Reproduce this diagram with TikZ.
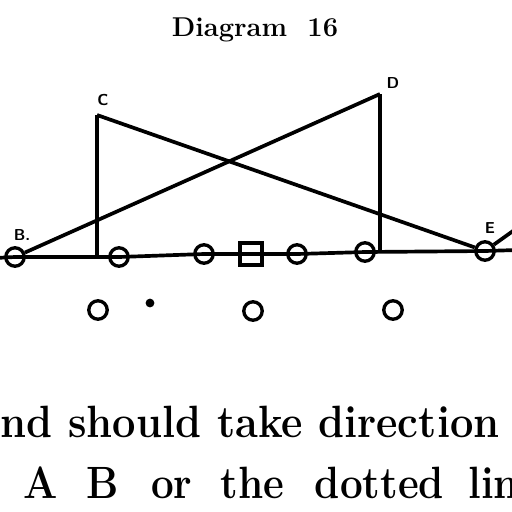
\documentclass[tikz,border=0pt]{standalone}
\usepackage{graphicx}
\begin{document}
\begin{tikzpicture}[x=.02cm,y=-.02cm,line width=2.1pt,
	player/.style={circle,draw,line width=1.9pt,inner sep=0pt,minimum size=10.5pt},
	centre/.style={rectangle,draw,line width=1.9pt,inner sep=0pt,minimum size=12.5pt},
	ball/.style={circle,fill,inner sep=0pt,minimum size=5pt},
	lbl/.style={font=\sffamily\bfseries\small},
	txt/.style={anchor=base west,inner sep=0pt,font=\bfseries\fontsize{23}{27}\selectfont}]
	\useasboundingbox (0,0) rectangle (512,512);
	\clip (0,0) rectangle (512,512);

	\node [font=\bfseries\fontsize{15.5}{18}\selectfont] (title) at (255,30) {Diagram\ \ 16};

	% line men
	\node [player] (b) at (15,257) {};
	\node [player] (g1) at (119,257) {};
	\node [player] (g2) at (204,254) {};
	\node [centre] (ctr) at (251,254) {};
	\node [player] (g3) at (297,254) {};
	\node [player] (g4) at (365,252) {};
	\node [player] (e) at (485,251) {};

	% backs
	\node [player] (h1) at (98,310) {};
	\node [ball] (dot) at (150,303) {};
	\node [player] (fb) at (253,311) {};
	\node [player] (h2) at (393,310) {};

	\coordinate (c) at (97,115);
	\coordinate (d) at (380,94);
	\coordinate (lend) at (-5,258);
	\coordinate (rend) at (517,250);
	\coordinate (eout) at (520,226);

	\draw (lend)--(b.center)--(g1.center)--(g2.center)--(ctr.center)--(g3.center)--(g4.center)--(e.center)--(rend);
	\draw (c)--(c |- b);
	\draw (d)--(d |- g4);
	\draw (b)--(d);
	\draw (c)--(e);
	\draw (e)--(eout);

	\node [lbl] (cl) at (103,100) {C};
	\node [lbl] (dl) at (393,83) {D};
	\node [lbl] (bl) at (22,235) {B.};
	\node [lbl] (el) at (490,228) {E};

	\node [txt] (t1) at (-1,437) {\scalebox{1.03}[1.12]{nd should take direction}};
	\node [txt] (t2) at (22,498) {\scalebox{1}[1.12]{A\hspace{.7em}B\hspace{.8em}or\hspace{.7em}the\hspace{.75em}dotted\hspace{.6em}lin}};
\end{tikzpicture}
\end{document}
